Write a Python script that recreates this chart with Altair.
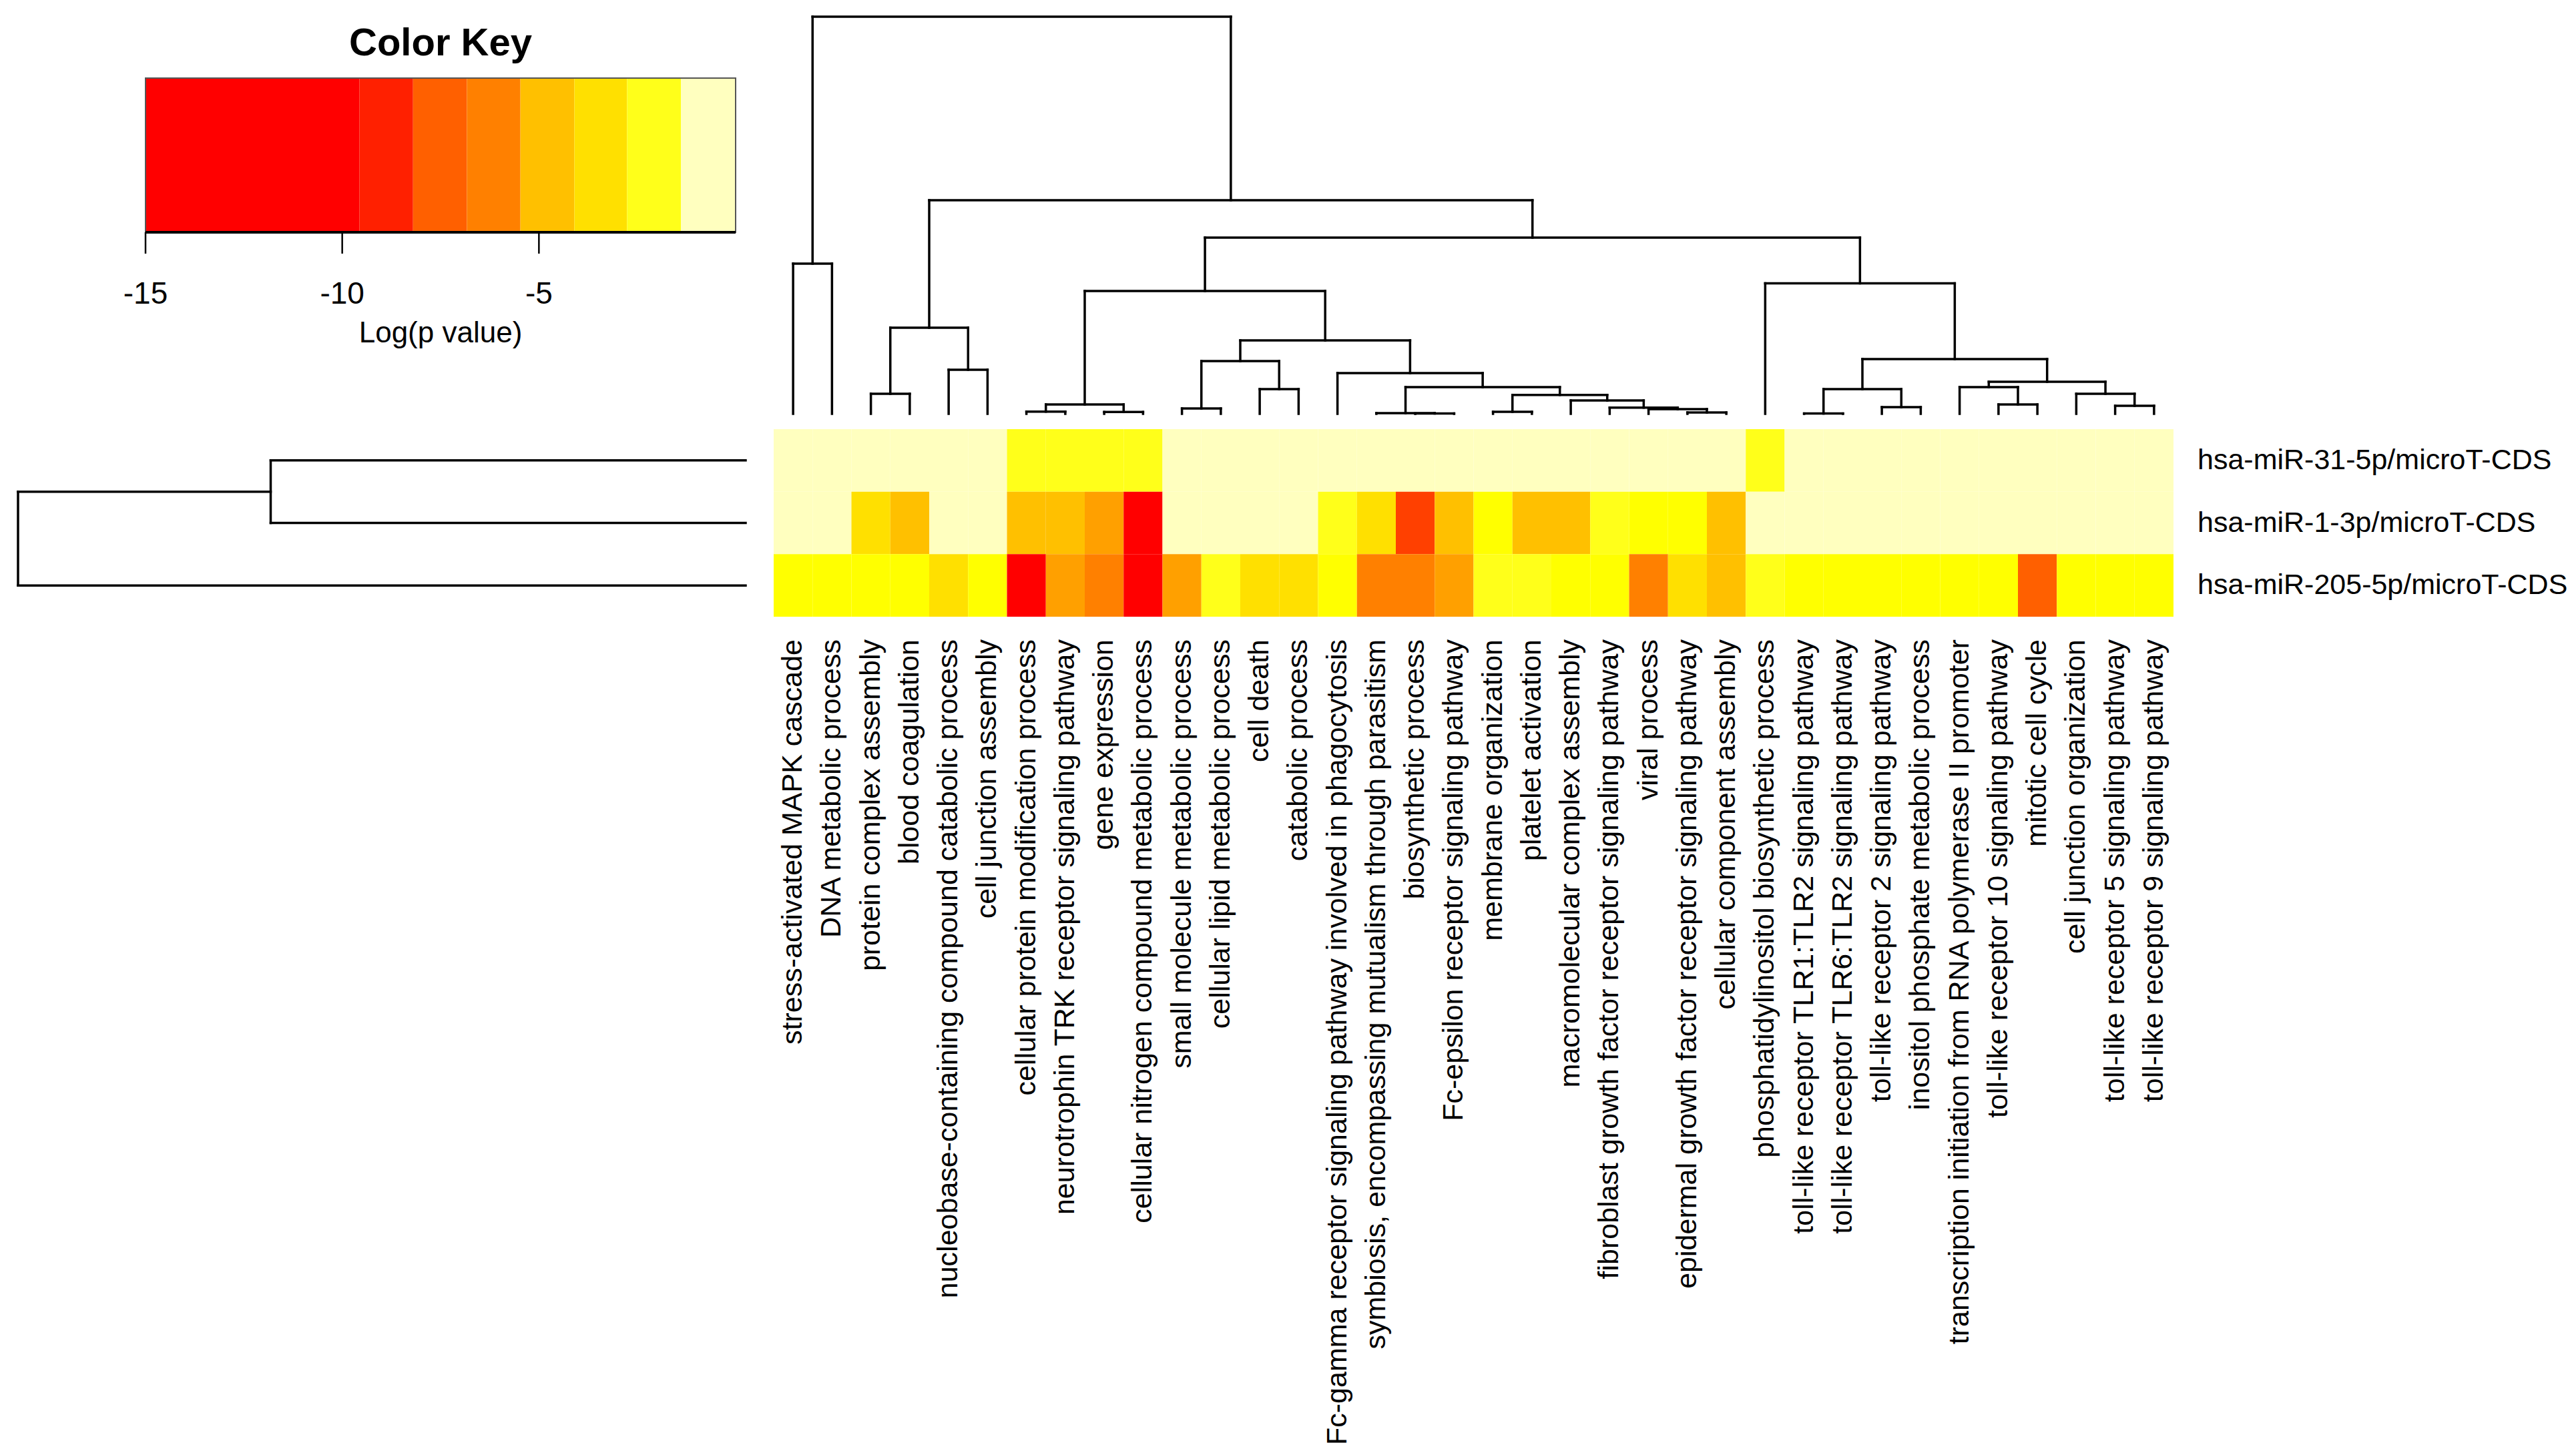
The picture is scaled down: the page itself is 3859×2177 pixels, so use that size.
import altair as alt
import pandas as pd

# ---------------- data ----------------
terms = [
    "stress-activated MAPK cascade",
    "DNA metabolic process",
    "protein complex assembly",
    "blood coagulation",
    "nucleobase-containing compound catabolic process",
    "cell junction assembly",
    "cellular protein modification process",
    "neurotrophin TRK receptor signaling pathway",
    "gene expression",
    "cellular nitrogen compound metabolic process",
    "small molecule metabolic process",
    "cellular lipid metabolic process",
    "cell death",
    "catabolic process",
    "Fc-gamma receptor signaling pathway involved in phagocytosis",
    "symbiosis, encompassing mutualism through parasitism",
    "biosynthetic process",
    "Fc-epsilon receptor signaling pathway",
    "membrane organization",
    "platelet activation",
    "macromolecular complex assembly",
    "fibroblast growth factor receptor signaling pathway",
    "viral process",
    "epidermal growth factor receptor signaling pathway",
    "cellular component assembly",
    "phosphatidylinositol biosynthetic process",
    "toll-like receptor TLR1:TLR2 signaling pathway",
    "toll-like receptor TLR6:TLR2 signaling pathway",
    "toll-like receptor 2 signaling pathway",
    "inositol phosphate metabolic process",
    "transcription initiation from RNA polymerase II promoter",
    "toll-like receptor 10 signaling pathway",
    "mitotic cell cycle",
    "cell junction organization",
    "toll-like receptor 5 signaling pathway",
    "toll-like receptor 9 signaling pathway",
]

mirnas = [
    "hsa-miR-31-5p/microT-CDS",
    "hsa-miR-1-3p/microT-CDS",
    "hsa-miR-205-5p/microT-CDS",
]

# log(p value) per term, in column order
logp_mir31 = [-0.5, -0.5, -0.5, -0.5, -0.5, -0.5,
              -1.6, -1.6, -1.6, -1.6,
              -0.5, -0.5, -0.5, -0.5, -0.5, -0.5, -0.5, -0.5, -0.5, -0.5,
              -0.5, -0.5, -0.5, -0.5, -0.5,
              -1.6,
              -0.5, -0.5, -0.5, -0.5, -0.5, -0.5, -0.5, -0.5, -0.5, -0.5]
logp_mir1 = [-0.5, -0.5, -3.4, -4.6, -0.5, -0.5, -4.6, -4.6, -5.6, -12.0,
             -0.5, -0.5, -0.5, -0.5, -1.6, -3.4, -8.6, -4.6, -2.4, -4.6,
             -4.6, -1.6, -2.4, -2.4, -4.6,
             -0.5, -0.5, -0.5, -0.5, -0.5, -0.5, -0.5, -0.5, -0.5, -0.5, -0.5]
logp_mir205 = [-2.4, -2.4, -2.4, -2.4, -3.4, -2.4, -12.0, -5.6, -6.4, -12.0,
               -5.6, -1.6, -3.4, -3.4, -2.4, -6.4, -6.4, -5.6, -1.6, -1.6,
               -2.4, -2.4, -6.4, -3.4, -4.6, -1.6,
               -2.4, -2.4, -2.4, -2.4, -2.4, -2.4, -7.4, -2.4, -2.4, -2.4]

# column dendrogram (hclust-style merge: negative = leaf, positive = earlier merge)
col_merge_left = [-1, -3, -5, 2, -7, -9, 5, -11, -13, 8,
                  -17, -16, -19, -24, -23, -22, -21, 13, 12, -15,
                  10, 7, -27, -29, 23, -32, -31, -35, -34, 27,
                  25, -26, 22, 4, 1]
col_merge_right = [-2, -4, -6, 3, -8, -10, 6, -12, -14, 9,
                   -18, 11, -20, -25, 14, 15, 16, 17, 18, 19,
                   20, 21, -28, -30, 24, -33, 26, -36, 28, 29,
                   30, 31, 32, 33, 34]
col_merge_height = [22.5, 3.0, 6.6, 12.9, 0.33, 0.27, 1.4, 0.8, 3.7, 7.9,
                    0.05, 0.1, 0.3, 0.2, 0.7, 0.93, 2.0, 2.83, 4.0, 6.1,
                    11.0, 18.4, 0.04, 1.0, 3.7, 1.4, 4.0, 1.2, 3.0, 4.8,
                    8.2, 19.55, 26.4, 32.0, 59.5]

# row dendrogram
row_merge_left = [-1, 1]
row_merge_right = [-2, -3]
row_merge_height = [7.115, 10.9]

# colour key
key_breaks = [-15, -9.56, -8.2, -6.83, -5.47, -4.1, -2.76, -1.39, 0]
key_ticks = [-15, -10, -5]

# ---------------- styles ----------------
heat_thresholds = [-9.5, -8, -7, -6, -5, -4, -3, -2, -1.1]
heat_colors = ["#FF0000", "#FF4000", "#FF6000", "#FF8000", "#FFA000",
               "#FFC000", "#FFE000", "#FFFF00", "#FFFF1A", "#FFFFBF"]
key_colors = ["#FF0000", "#FF2000", "#FF6000", "#FF8000",
              "#FFC000", "#FFE000", "#FFFF1A", "#FFFFBF"]
FONT = "Liberation Sans"

W, H = 3843, 2161
COL_RANGE = [1151, 3248]      # heatmap columns (pixels)
ROW_RANGE = [635, 916]        # heatmap rows (pixels)
CDEND_RANGE = [612, 17]       # column dendrogram height axis
RDEND_RANGE = [1109, 19]      # row dendrogram height axis
KEY_RANGE = [210, 1094]

# ---------------- tables ----------------
rows = []
for r, vals in enumerate([logp_mir31, logp_mir1, logp_mir205]):
    for c, v in enumerate(vals):
        rows.append({"term": terms[c], "mirna": mirnas[r], "c0": c, "c1": c + 1,
                     "r0": r, "r1": r + 1, "logp": v})
heat_df = pd.DataFrame(rows)

col_lab_df = pd.DataFrame({"term": terms, "pos": [i + 0.5 for i in range(len(terms))]})
row_lab_df = pd.DataFrame({"mirna": mirnas, "pos": [i + 0.5 for i in range(len(mirnas))]})


def dendro_segments(left, right, height):
    pos, hts, segs = {}, {}, []

    def get(ch):
        if ch < 0:
            return -ch - 0.5, 0.0
        return pos[ch], hts[ch]

    for i, (l, r, h) in enumerate(zip(left, right, height), start=1):
        pl, hl = get(l)
        pr, hr = get(r)
        segs.append((pl, hl, pl, h))
        segs.append((pr, hr, pr, h))
        segs.append((pl, h, pr, h))
        pos[i] = (pl + pr) / 2
        hts[i] = h
    return pd.DataFrame(segs, columns=["p1", "h1", "p2", "h2"])


cden_df = dendro_segments(col_merge_left, col_merge_right, col_merge_height)
rden_df = dendro_segments(row_merge_left, row_merge_right, row_merge_height)

key_df = pd.DataFrame({"lo": key_breaks[:-1], "hi": key_breaks[1:]})
key_df["mid"] = (key_df["lo"] + key_df["hi"]) / 2
key_box_df = pd.DataFrame({"lo": [key_breaks[0]], "hi": [key_breaks[-1]]})
key_tick_df = pd.DataFrame({"v": key_ticks, "lab": [str(t) for t in key_ticks]})

# ---------------- scales ----------------
def colscale():
    return alt.Scale(domain=[0, len(terms)], range=COL_RANGE, nice=False, zero=False)


def rowscale():
    return alt.Scale(domain=[0, len(mirnas)], range=ROW_RANGE, nice=False, zero=False)


def keyscale():
    return alt.Scale(domain=[key_breaks[0], key_breaks[-1]], range=KEY_RANGE, nice=False, zero=False)


# ---------------- layers ----------------
heat = alt.Chart(heat_df).mark_rect(strokeWidth=0).encode(
    x=alt.X("c0:Q", scale=colscale(), axis=None),
    x2="c1:Q",
    y=alt.Y("r0:Q", scale=rowscale(), axis=None),
    y2="r1:Q",
    color=alt.Color("logp:Q", scale=alt.Scale(type="threshold", domain=heat_thresholds,
                                              range=heat_colors), legend=None),
    tooltip=["term", "mirna", "logp"],
)

col_labels = alt.Chart(col_lab_df).mark_text(
    angle=270, align="right", baseline="middle", font=FONT, fontSize=43, color="black"
).encode(
    x=alt.X("pos:Q", scale=colscale(), axis=None),
    y=alt.value(950),
    text="term:N",
)

row_labels = alt.Chart(row_lab_df).mark_text(
    align="left", baseline="middle", font=FONT, fontSize=43, color="black"
).encode(
    x=alt.value(3284),
    y=alt.Y("pos:Q", scale=rowscale(), axis=None),
    text="mirna:N",
)

col_dend = alt.Chart(cden_df).mark_rule(color="black", strokeWidth=3.5, strokeCap="square").encode(
    x=alt.X("p1:Q", scale=colscale(), axis=None),
    x2="p2:Q",
    y=alt.Y("h1:Q", scale=alt.Scale(domain=[0, max(col_merge_height)], range=CDEND_RANGE,
                                    nice=False, zero=False), axis=None),
    y2="h2:Q",
)

row_dend = alt.Chart(rden_df).mark_rule(color="black", strokeWidth=3.5, strokeCap="square").encode(
    y=alt.Y("p1:Q", scale=rowscale(), axis=None),
    y2="p2:Q",
    x=alt.X("h1:Q", scale=alt.Scale(domain=[0, max(row_merge_height)], range=RDEND_RANGE,
                                    nice=False, zero=False), axis=None),
    x2="h2:Q",
)

key_rects = alt.Chart(key_df).mark_rect(strokeWidth=0).encode(
    x=alt.X("lo:Q", scale=keyscale(), axis=None),
    x2="hi:Q",
    y=alt.value(109),
    y2=alt.value(340),
    color=alt.Color("mid:Q", scale=alt.Scale(type="threshold", domain=key_breaks[1:-1],
                                             range=key_colors), legend=None),
)

key_box = alt.Chart(key_box_df).mark_rect(fillOpacity=0, stroke="#555555", strokeWidth=2).encode(
    x=alt.X("lo:Q", scale=keyscale(), axis=None),
    x2="hi:Q",
    y=alt.value(109),
    y2=alt.value(340),
)

key_axis_line = alt.Chart(key_box_df).mark_rule(color="black", strokeWidth=4).encode(
    x=alt.X("lo:Q", scale=keyscale(), axis=None),
    x2="hi:Q",
    y=alt.value(340),
)

key_tick_marks = alt.Chart(key_tick_df).mark_rule(color="black", strokeWidth=2.5).encode(
    x=alt.X("v:Q", scale=keyscale(), axis=None),
    y=alt.value(340),
    y2=alt.value(372),
)

key_tick_labels = alt.Chart(key_tick_df).mark_text(
    align="center", baseline="alphabetic", font=FONT, fontSize=46, color="black"
).encode(
    x=alt.X("v:Q", scale=keyscale(), axis=None),
    y=alt.value(447),
    text="lab:N",
)

key_title = alt.Chart(pd.DataFrame({"t": ["Color Key"]})).mark_text(
    align="center", baseline="alphabetic", font=FONT, fontSize=58, fontWeight="bold", color="black"
).encode(x=alt.value(652), y=alt.value(75), text="t:N")

key_xlabel = alt.Chart(pd.DataFrame({"t": ["Log(p value)"]})).mark_text(
    align="center", baseline="alphabetic", font=FONT, fontSize=44, color="black"
).encode(x=alt.value(652), y=alt.value(505), text="t:N")

chart = alt.layer(
    heat, col_labels, row_labels, col_dend, row_dend,
    key_rects, key_box, key_axis_line, key_tick_marks, key_tick_labels,
    key_title, key_xlabel,
).resolve_scale(
    x="independent", y="independent", color="independent"
).properties(
    width=W, height=H, padding=0, background="white",
    autosize=alt.AutoSizeParams(type="none"),
).configure_view(strokeWidth=0)

chart.save("out.html", embed_options={"renderer": "svg", "actions": False})
